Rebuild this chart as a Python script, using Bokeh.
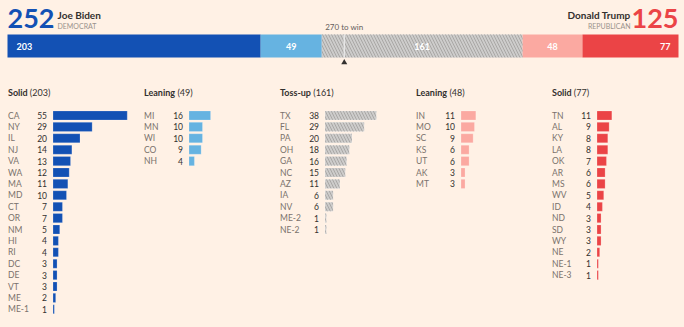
from bokeh.plotting import figure
from bokeh.models import Range1d
from bokeh.layouts import column, row
from bokeh.embed import file_html
from bokeh.resources import INLINE
from bokeh.core.properties import value

# ---------------- data ----------------
candidates = ["Joe Biden", "Donald Trump"]
parties = ["DEMOCRAT", "REPUBLICAN"]
totals = [252, 125]
to_win = 270

group_names = ["Solid", "Leaning", "Toss-up", "Leaning", "Solid"]
group_totals = [203, 49, 161, 48, 77]

solid_dem_states = ["CA", "NY", "IL", "NJ", "VA", "WA", "MA", "MD", "CT", "OR", "NM", "HI", "RI", "DC", "DE", "VT", "ME", "ME-1"]
solid_dem_votes = [55, 29, 20, 14, 13, 12, 11, 10, 7, 7, 5, 4, 4, 3, 3, 3, 2, 1]
lean_dem_states = ["MI", "MN", "WI", "CO", "NH"]
lean_dem_votes = [16, 10, 10, 9, 4]
tossup_states = ["TX", "FL", "PA", "OH", "GA", "NC", "AZ", "IA", "NV", "ME-2", "NE-2"]
tossup_votes = [38, 29, 20, 18, 16, 15, 11, 6, 6, 1, 1]
lean_rep_states = ["IN", "MO", "SC", "KS", "UT", "AK", "MT"]
lean_rep_votes = [11, 10, 9, 6, 6, 3, 3]
solid_rep_states = ["TN", "AL", "KY", "LA", "OK", "AR", "MS", "WV", "ID", "ND", "SD", "WY", "NE", "NE-1", "NE-3"]
solid_rep_votes = [11, 9, 8, 8, 7, 6, 6, 5, 4, 3, 3, 3, 2, 1, 1]

# ---------------- style ----------------
BG = "#fff1e5"
FONT = "Lato"
DARK = "#33302e"
GREY = "#7a726c"
colors = ["#1351b4", "#66b3e1", "#cdcccb", "#fba9a1", "#eb4446"]
HATCH_COLOR = "#a9a7a5"
DEM_COLOR = "#1351b4"
REP_COLOR = "#eb4446"

# approximate Lato Bold advance widths (em) used to place the "(n)" part of titles
_BOLD_W = {"S": .50, "o": .56, "l": .26, "i": .26, "d": .57, "L": .49, "e": .53, "a": .51,
           "n": .57, "g": .51, "T": .55, "s": .42, "-": .33, "u": .57, "p": .57}


def bold_width(txt, size):
    return sum(_BOLD_W.get(ch, .55) for ch in txt) * size


def base_fig(w, h, xr, yr):
    p = figure(width=w, height=h, x_range=xr, y_range=yr, output_backend="svg",
               toolbar_location=None, min_border=0, outline_line_color=None,
               background_fill_color=BG, border_fill_color=BG)
    p.axis.visible = False
    p.grid.visible = False
    return p


# ---------------- header ----------------
W, HH = 684, 75
TOTAL = sum(group_totals)
LEFT_PAD, RIGHT_PAD = 7, 6
S = (W - LEFT_PAD - RIGHT_PAD) / TOTAL
hdr = base_fig(W, HH, Range1d(-LEFT_PAD / S, (W - LEFT_PAD) / S), Range1d(HH, 0))

lefts, rights = [], []
acc = 0
for v in group_totals:
    lefts.append(acc)
    acc += v
    rights.append(acc)
BAR_Y, BAR_H = 45.5, 23
hdr.hbar(y=[BAR_Y] * 5, height=BAR_H, left=lefts, right=rights, fill_color=colors, line_color=None)
hdr.hbar(y=[BAR_Y], height=BAR_H, left=[lefts[2]], right=[rights[2]], fill_color=None,
         line_color=None, hatch_pattern="\\", hatch_color=HATCH_COLOR, hatch_scale=6, hatch_weight=1)
# 270 marker
hdr.segment(x0=[to_win], x1=[to_win], y0=[BAR_Y - BAR_H / 2], y1=[BAR_Y + BAR_H / 2], line_color="#eeeeee", line_width=1.2)
hdr.text(x=[to_win], y=[26], text=[f"{to_win} to win"], text_align="center", text_baseline="middle",
         text_font=value(FONT), text_font_size="8px", text_color="#66605c")
hdr.scatter(x=[to_win], y=[62], marker="triangle", size=6, fill_color=DARK, line_color=None)

# bar labels
lab_kw = dict(text_baseline="middle", text_font=value(FONT), text_font_size="9px",
              text_font_style="bold", text_color="white")
hdr.text(x=[0], y=[BAR_Y], text=[str(group_totals[0])], x_offset=9, text_align="left", **lab_kw)
mids = [(lefts[i] + rights[i]) / 2 for i in (1, 2, 3)]
hdr.text(x=mids, y=[BAR_Y] * 3, text=[str(group_totals[i]) for i in (1, 2, 3)], text_align="center", **lab_kw)
hdr.text(x=[TOTAL], y=[BAR_Y], text=[str(group_totals[4])], x_offset=-8, text_align="right", **lab_kw)

# candidate headings
hdr.text(x=[0], y=[18], text=[str(totals[0])], text_align="left", text_baseline="middle",
         text_font=value(FONT), text_font_size="27px", text_font_style="bold", text_color=DEM_COLOR)
hdr.text(x=[TOTAL], y=[18], text=[str(totals[1])], text_align="right", text_baseline="middle",
         text_font=value(FONT), text_font_size="27px", text_font_style="bold", text_color=REP_COLOR)
hdr.text(x=[0], y=[14], text=[candidates[0]], x_offset=50, text_align="left", text_baseline="middle",
         text_font=value(FONT), text_font_size="10px", text_font_style="bold", text_color=DARK)
hdr.text(x=[TOTAL], y=[14], text=[candidates[1]], x_offset=-48, text_align="right", text_baseline="middle",
         text_font=value(FONT), text_font_size="10px", text_font_style="bold", text_color=DARK)
hdr.text(x=[0], y=[25], text=[parties[0]], x_offset=50, text_align="left", text_baseline="middle",
         text_font=value(FONT), text_font_size="7px", text_color="#9a928c")
hdr.text(x=[TOTAL], y=[25], text=[parties[1]], x_offset=-48, text_align="right", text_baseline="middle",
         text_font=value(FONT), text_font_size="7px", text_color="#9a928c")

# ---------------- columns ----------------
groups = [
    (solid_dem_states, solid_dem_votes),
    (lean_dem_states, lean_dem_votes),
    (tossup_states, tossup_votes),
    (lean_rep_states, lean_rep_votes),
    (solid_rep_states, solid_rep_votes),
]
CH = 327 - HH
C = 1.35          # px per vote
BAR_START = 52.5  # px from column left
PITCH = 11.4
FIRST_ROW = 40    # px from column top
widths = [136, 136, 136, 136, 140]
TITLE_SIZE = 9

figs = []
for k, (states, votes) in enumerate(groups):
    w = widths[k]
    p = base_fig(w, CH,
                 Range1d(-BAR_START / C, (w - BAR_START) / C),
                 Range1d((CH - FIRST_ROW) / PITCH, -FIRST_ROW / PITCH))
    rows = list(range(len(states)))
    kw = {}
    if k == 2:
        kw = dict(hatch_pattern="\\", hatch_color=HATCH_COLOR, hatch_scale=6, hatch_weight=1)
    p.hbar(y=rows, height=0.8, left=0, right=votes, fill_color=colors[k],
           line_color="white", line_alpha=0.35, line_width=0.6, **kw)
    p.text(x=[0] * len(rows), y=rows, text=states, x_offset=-45, text_align="left",
           text_baseline="middle", text_font=value(FONT), text_font_size="8.5px", text_color=GREY)
    p.text(x=[0] * len(rows), y=rows, text=[str(v) for v in votes], x_offset=-6, text_align="right",
           text_baseline="middle", text_font=value(FONT), text_font_size="8.5px", text_color=DARK)
    name = group_names[k]
    p.text(x=[0], y=[-2], text=[name], x_offset=-45, text_align="left", text_baseline="middle",
           text_font=value(FONT), text_font_size=f"{TITLE_SIZE}px", text_font_style="bold", text_color=DARK)
    p.text(x=[0], y=[-2], text=[f"({group_totals[k]})"],
           x_offset=-45 + bold_width(name, TITLE_SIZE) + 2.5,
           text_align="left", text_baseline="middle",
           text_font=value(FONT), text_font_size=f"{TITLE_SIZE}px", text_color=DARK)
    figs.append(p)

layout = column(hdr, row(*figs, spacing=0), spacing=0)
layout.styles = {"background-color": BG}

open("out.html", "w").write(file_html(layout, INLINE))
